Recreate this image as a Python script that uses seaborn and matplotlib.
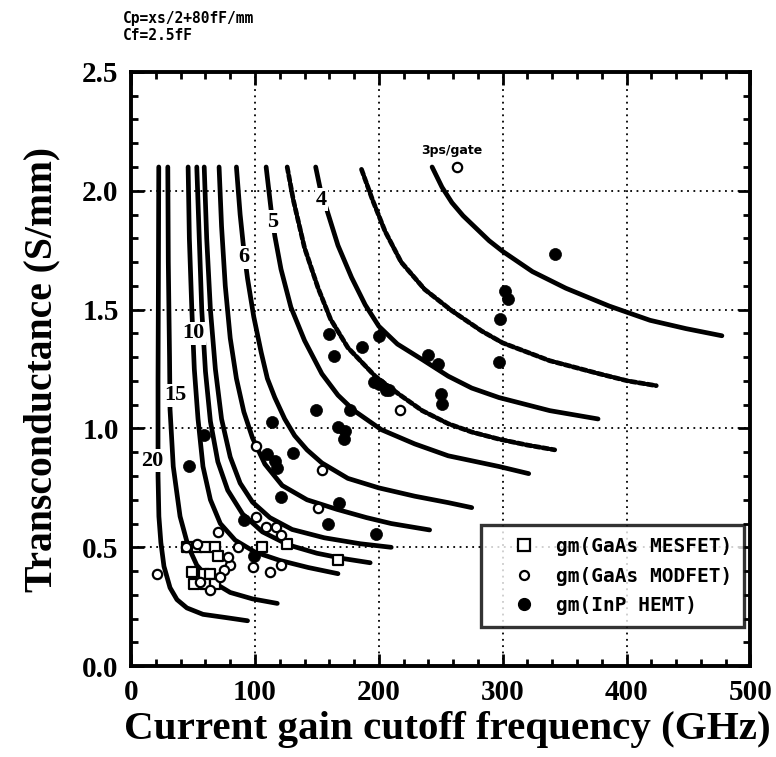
import matplotlib
matplotlib.use("Agg")
import matplotlib.pyplot as plt
import pandas as pd
import seaborn as sns
from matplotlib.ticker import MultipleLocator, FormatStrFormatter
from matplotlib.lines import Line2D

sns.set_theme(style="ticks")
plt.rcParams['font.family'] = ['Liberation Serif', 'DejaVu Serif']
plt.rcParams['font.weight'] = 'bold'
for key in ('text.color', 'axes.labelcolor', 'xtick.color', 'ytick.color', 'axes.edgecolor'):
    plt.rcParams[key] = 'black'

# Constant gate-delay contours (ps/gate): cutoff frequency ft (GHz) vs gm (S/mm)
delay_3_ft = [243, 251, 259, 268, 278, 289, 300, 324, 351, 386, 419, 448, 477]
delay_3_gm = [2.10, 2.015, 1.95, 1.895, 1.845, 1.79, 1.745, 1.66, 1.59, 1.515, 1.455, 1.42, 1.39]
delay_35_ft = [186, 195, 205, 218, 237, 259, 283, 300, 338, 378, 401, 424]
delay_35_gm = [2.09, 1.96, 1.83, 1.70, 1.585, 1.495, 1.41, 1.36, 1.285, 1.23, 1.20, 1.18]
delay_4_ft = [149, 153, 158, 167, 178, 189, 200, 215, 235, 256, 275, 297, 338, 377]
delay_4_gm = [2.10, 2.00, 1.92, 1.77, 1.635, 1.52, 1.43, 1.355, 1.29, 1.22, 1.17, 1.13, 1.075, 1.04]
delay_45_ft = [126, 131, 140, 151, 161, 175, 197, 216, 235, 256, 275, 297, 320, 342]
delay_45_gm = [2.10, 1.96, 1.76, 1.59, 1.46, 1.34, 1.22, 1.145, 1.075, 1.02, 0.985, 0.955, 0.93, 0.91]
delay_5_ft = [109, 113, 116, 121, 129, 140, 154, 167, 180, 202, 229, 256, 297, 321]
delay_5_gm = [2.10, 1.92, 1.81, 1.67, 1.51, 1.37, 1.23, 1.14, 1.075, 0.995, 0.935, 0.885, 0.84, 0.81]
delay_6_ft = [85, 88, 91, 94, 99, 105, 110, 116, 124, 132, 142, 154, 175, 200, 229, 256, 275]
delay_6_gm = [2.10, 1.90, 1.75, 1.63, 1.47, 1.32, 1.21, 1.13, 1.04, 0.97, 0.91, 0.855, 0.79, 0.75, 0.715, 0.688, 0.667]
delay_7_ft = [71, 73, 76, 80, 85, 91, 98, 108, 122, 142, 166, 190, 210, 241]
delay_7_gm = [2.10, 1.85, 1.60, 1.38, 1.21, 1.07, 0.96, 0.85, 0.76, 0.70, 0.66, 0.625, 0.60, 0.573]
delay_8_ft = [59, 61, 64, 68, 73, 80, 88, 98, 112, 130, 156, 185, 210]
delay_8_gm = [2.10, 1.80, 1.50, 1.25, 1.04, 0.88, 0.77, 0.69, 0.625, 0.575, 0.54, 0.515, 0.50]
delay_9_ft = [53, 55, 57, 60, 64, 70, 78, 90, 106, 127, 150, 172, 193]
delay_9_gm = [2.10, 1.80, 1.50, 1.24, 1.03, 0.86, 0.74, 0.64, 0.565, 0.51, 0.475, 0.452, 0.435]
delay_10_ft = [46, 47, 49, 51, 54, 58, 64, 72, 84, 100, 120, 143, 167]
delay_10_gm = [2.10, 1.80, 1.50, 1.25, 1.04, 0.84, 0.70, 0.60, 0.53, 0.48, 0.445, 0.415, 0.389]
delay_15_ft = [29.6, 30, 31, 31.4, 34, 39.5, 46, 53, 64, 80, 98, 118]
delay_15_gm = [2.10, 1.70, 1.30, 1.08, 0.84, 0.63, 0.505, 0.425, 0.36, 0.31, 0.283, 0.264]
delay_20_ft = [22.3, 22, 21.7, 21.7, 22.4, 24, 26.5, 31.4, 37, 45, 58, 77, 94]
delay_20_gm = [2.10, 1.60, 1.20, 0.80, 0.63, 0.52, 0.42, 0.33, 0.28, 0.245, 0.218, 0.204, 0.191]

# Measured devices
mesfet_ft = [126, 167, 106, 45, 53, 60, 68, 70, 49, 59, 64, 51, 60, 68]
mesfet_gm = [0.515, 0.445, 0.50, 0.50, 0.50, 0.50, 0.50, 0.465, 0.396, 0.389, 0.389, 0.347, 0.347, 0.347]
modfet_ft = [263, 21, 70, 101, 101, 154, 151, 217, 109, 117, 121, 86, 98, 112, 121,
             53, 80, 75, 72, 64, 56, 78, 44]
modfet_gm = [2.10, 0.389, 0.565, 0.928, 0.627, 0.824, 0.666, 1.077, 0.587, 0.587, 0.55, 0.50,
             0.417, 0.396, 0.424, 0.514, 0.424, 0.403, 0.375, 0.319, 0.354, 0.458, 0.50]
hemt_ft = [342, 302, 304, 298, 297, 240, 248, 250, 251, 206, 160, 186, 164, 200, 196, 200,
           208, 149, 177, 114, 167, 173, 172, 47, 110, 116, 118, 131, 121, 168, 159, 198,
           59, 99, 91]
hemt_gm = [1.736, 1.577, 1.543, 1.459, 1.279, 1.307, 1.272, 1.146, 1.105, 1.16, 1.397,
           1.341, 1.306, 1.39, 1.195, 1.188, 1.161, 1.077, 1.077, 1.028, 1.007, 0.99,
           0.957, 0.841, 0.891, 0.862, 0.834, 0.898, 0.71, 0.688, 0.60, 0.558, 0.971,
           0.465, 0.616]

contours = [
    (3, delay_3_ft, delay_3_gm), (3.5, delay_35_ft, delay_35_gm),
    (4, delay_4_ft, delay_4_gm), (4.5, delay_45_ft, delay_45_gm),
    (5, delay_5_ft, delay_5_gm), (6, delay_6_ft, delay_6_gm),
    (7, delay_7_ft, delay_7_gm), (8, delay_8_ft, delay_8_gm),
    (9, delay_9_ft, delay_9_gm), (10, delay_10_ft, delay_10_gm),
    (15, delay_15_ft, delay_15_gm), (20, delay_20_ft, delay_20_gm),
]
curves = pd.concat(
    [pd.DataFrame({"delay": d, "ft": f, "gm": g}) for d, f, g in contours],
    ignore_index=True,
)

fig = plt.figure(figsize=(7.76, 7.57), dpi=100)
ax = fig.add_axes([0.169, 0.12, 0.798, 0.785])

for d, grp in curves.groupby("delay"):
    half_step = d in (3.5, 4.5)
    sns.lineplot(data=grp, x="ft", y="gm", sort=False, estimator=None, ax=ax,
                 color="black", lw=3.4, solid_capstyle="round", solid_joinstyle="round",
                 dash_capstyle="round", linestyle=(0, (1.2, 0.6)) if half_step else "-",
                 legend=False, zorder=3)

mk = dict(ax=ax, legend=False, zorder=5)
sns.scatterplot(x=mesfet_ft, y=mesfet_gm, marker="s", s=55, facecolor="white",
                edgecolor="black", linewidth=1.6, **mk)
sns.scatterplot(x=modfet_ft, y=modfet_gm, marker="o", s=45, facecolor="white",
                edgecolor="black", linewidth=1.6, **mk)
sns.scatterplot(x=hemt_ft, y=hemt_gm, marker="o", s=75, color="black",
                edgecolor="black", linewidth=0.5, **mk)

# contour labels
lab = dict(fontsize=16, fontweight="bold", ha="center", va="center", zorder=4,
           bbox=dict(facecolor="white", edgecolor="none", pad=1.0))
ax.text(153.6, 1.963, "4", **lab)
ax.text(114.2, 1.87, "5", **lab)
ax.text(91.2, 1.72, "6", **lab)
ax.text(50.6, 1.40, "10", **lab)
ax.text(35.9, 1.14, "15", **lab)
ax.text(17.2, 0.864, "20", **lab)
ax.text(259, 2.17, "3ps/gate", fontsize=9, fontweight="bold", family="DejaVu Sans",
        ha="center", va="center", zorder=4)

ax.set_xlim(0, 500)
ax.set_ylim(0, 2.5)
ax.xaxis.set_major_locator(MultipleLocator(100))
ax.xaxis.set_minor_locator(MultipleLocator(20))
ax.yaxis.set_major_locator(MultipleLocator(0.5))
ax.yaxis.set_minor_locator(MultipleLocator(0.1))
ax.xaxis.set_major_formatter(FormatStrFormatter("%d"))
ax.yaxis.set_major_formatter(FormatStrFormatter("%.1f"))
ax.tick_params(which="both", direction="in", top=True, right=True, color="black", width=2)
ax.tick_params(which="major", length=9, labelsize=21, pad=9)
ax.tick_params(which="minor", length=5)
ax.grid(True, which="major", color="black", linestyle=(0, (1, 2.5)), linewidth=1.3)
for sp in ax.spines.values():
    sp.set_linewidth(2.8)
    sp.set_color("black")

ax.set_xlabel("Current gain cutoff frequency (GHz)", fontsize=29.6, fontweight="bold")
ax.xaxis.set_label_coords(0.51, -0.076)
ax.set_ylabel("Transconductance (S/mm)", fontsize=28.5, fontweight="bold", labelpad=16)

handles = [
    Line2D([], [], ls="none", marker="s", ms=8.5, mfc="white", mec="black", mew=1.6),
    Line2D([], [], ls="none", marker="o", ms=6.5, mfc="white", mec="black", mew=1.6),
    Line2D([], [], ls="none", marker="o", ms=8.5, mfc="black", mec="black"),
]
leg = ax.legend(handles, ["gm(GaAs MESFET)", "gm(GaAs MODFET)", "gm(InP HEMT)"],
                loc="lower right", bbox_to_anchor=(0.989, 0.066), frameon=True, fancybox=False,
                edgecolor="black", prop=dict(family="DejaVu Sans Mono", weight="bold", size=14),
                handletextpad=0.05, borderpad=0.6, labelspacing=0.55, handlelength=3.2,
                borderaxespad=0)
leg.get_frame().set_linewidth(2.4)
leg.set_zorder(10)

fig.text(0.158, 0.985, "Cp=xs/2+80fF/mm", fontsize=10.5, fontweight="bold",
         family="DejaVu Sans Mono", va="top", ha="left")
fig.text(0.158, 0.963, "Cf=2.5fF", fontsize=10.5, fontweight="bold",
         family="DejaVu Sans Mono", va="top", ha="left")

fig.savefig("out.png", dpi=100)
